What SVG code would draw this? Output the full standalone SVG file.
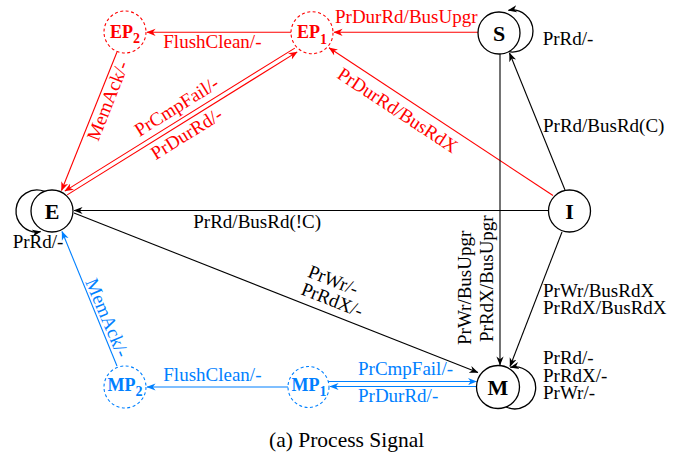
<svg xmlns="http://www.w3.org/2000/svg" width="687" height="458" viewBox="0 0 687 458">
<style>
text{font-family:"Liberation Serif","Times New Roman",serif;font-size:19px}
.k{fill:#000}.r{fill:#FF0000}.b{fill:#0080FF}
.nl{font-weight:bold;font-size:22px;text-anchor:middle}
.sl{font-weight:bold;font-size:18px;text-anchor:middle}
.node{fill:#fff;stroke:#000;stroke-width:1.3}
.dr{fill:#fff;stroke:#FF0000;stroke-width:1.1;stroke-dasharray:3 2.5}
.db{fill:#fff;stroke:#0080FF;stroke-width:1.1;stroke-dasharray:3 2.5}
.lk{fill:none;stroke:#000;stroke-width:1.1;marker-end:url(#ak)}
.lr{fill:none;stroke:#FF0000;stroke-width:1.1;marker-end:url(#ar)}
.lb{fill:none;stroke:#0080FF;stroke-width:1.1;marker-end:url(#ab)}
.loop{fill:none;stroke:#000;stroke-width:1.3;marker-end:url(#ak)}
</style>
<defs>
<marker id="ak" viewBox="0 0 10 10" refX="9.5" refY="5" markerUnits="userSpaceOnUse" markerWidth="9" markerHeight="9" orient="auto"><path d="M0,1 L10,5 L0,9 L3,5 z" fill="#000"/></marker>
<marker id="ar" viewBox="0 0 10 10" refX="9.5" refY="5" markerUnits="userSpaceOnUse" markerWidth="9" markerHeight="9" orient="auto"><path d="M0,1 L10,5 L0,9 L3,5 z" fill="#FF0000"/></marker>
<marker id="ab" viewBox="0 0 10 10" refX="9.5" refY="5" markerUnits="userSpaceOnUse" markerWidth="9" markerHeight="9" orient="auto"><path d="M0,1 L10,5 L0,9 L3,5 z" fill="#0080FF"/></marker>
</defs>
<rect width="687" height="458" fill="#fff"/>

<g id="connectors">
  <!-- red -->
  <line class="lr" x1="478" y1="32.3" x2="334" y2="32.3"/>
  <line class="lr" x1="291" y1="32.3" x2="147" y2="32.3"/>
  <line class="lr" x1="117" y1="52" x2="61.5" y2="190.5"/>
  <line class="lr" x1="294.8" y1="48.1" x2="64.8" y2="191.1"/>
  <line class="lr" x1="67.2" y1="194.9" x2="297.2" y2="51.9"/>
  <line class="lr" x1="553" y1="195.5" x2="329" y2="47.8"/>
  <!-- black -->
  <line class="lk" x1="548" y1="210.5" x2="74" y2="210.5"/>
  <line class="lk" x1="565" y1="190" x2="509.5" y2="53"/>
  <line class="lk" x1="500" y1="54" x2="500" y2="365"/>
  <line class="lk" x1="562" y1="232" x2="510" y2="366.5"/>
  <line class="lk" x1="74" y1="213" x2="478" y2="372.5"/>
  <!-- blue -->
  <line class="lb" x1="288" y1="387" x2="147" y2="387"/>
  <line class="lb" x1="117" y1="366" x2="62" y2="231.5"/>
  <line class="lb" x1="328" y1="381.5" x2="476.5" y2="381.5"/>
  <line class="lb" x1="477" y1="386.5" x2="330" y2="386.5"/>

  <!-- labels -->
  <text class="r" x="335" y="22.7">PrDurRd/BusUpgr</text>
  <text class="r" x="163.3" y="48">FlushClean/-</text>
  <text class="r" text-anchor="middle" transform="translate(113.6,103.2) rotate(-68.5)">MemAck/-</text>
  <text class="r" text-anchor="middle" transform="translate(179.9,111.8) rotate(-31.9)">PrCmpFail/-</text>
  <text class="r" text-anchor="middle" transform="translate(189.9,139.1) rotate(-31.9)">PrDurRd/-</text>
  <text class="r" text-anchor="middle" transform="translate(394.2,115.5) rotate(33.3)">PrDurRd/BusRdX</text>

  <text class="k" x="542.7" y="44.5">PrRd/-</text>
  <text class="k" x="543" y="132">PrRd/BusRd(C)</text>
  <text class="k" x="193.3" y="228.3">PrRd/BusRd(!C)</text>
  <text class="k" x="12.7" y="248">PrRd/-</text>
  <text class="k" transform="translate(470.5,345) rotate(-90)">PrWr/BusUpgr</text>
  <text class="k" transform="translate(492.5,342) rotate(-90)">PrRdX/BusUpgr</text>
  <text class="k" transform="translate(306.8,276.5) rotate(21.5)"><tspan x="0" y="0">PrWr/-</tspan><tspan x="0" y="18.7">PrRdX/-</tspan></text>
  <text class="k" x="543" y="296.7">PrWr/BusRdX</text>
  <text class="k" x="543" y="314.3">PrRdX/BusRdX</text>
  <text class="k" x="543" y="364.3">PrRd/-</text>
  <text class="k" x="543" y="381.6">PrRdX/-</text>
  <text class="k" x="543" y="399.2">PrWr/-</text>

  <text class="b" text-anchor="middle" transform="translate(101.4,320.2) rotate(67)">MemAck/-</text>
  <text class="b" x="163.3" y="381">FlushClean/-</text>
  <text class="b" x="358" y="375.3">PrCmpFail/-</text>
  <text class="b" x="358" y="401.5">PrDurRd/-</text>
</g>

<g id="node-S">
  <path class="loop" d="M508.5,51.7 A21,21 0 1 0 508.4,10.3"/>
  <circle class="node" cx="499" cy="33" r="21"/>
  <text class="k nl" x="499" y="40.5">S</text>
</g>
<g id="node-E">
  <path class="loop" d="M44.5,191.4 A21,21 0 1 0 40.6,231.7"/>
  <circle class="node" cx="52" cy="211" r="21"/>
  <text class="k nl" x="52" y="218.5">E</text>
</g>
<g id="node-I">
  <circle class="node" cx="569.5" cy="211" r="21"/>
  <text class="k nl" x="569.5" y="218.5">I</text>
</g>
<g id="node-M">
  <path class="loop" d="M506,407 A21,21 0 1 0 510.4,367.3"/>
  <circle class="node" cx="498" cy="387" r="21.5"/>
  <text class="k nl" x="498" y="394.5">M</text>
</g>
<g id="node-EP1">
  <circle class="dr" cx="312" cy="32.7" r="21"/>
  <text class="r sl" x="312" y="38">EP<tspan font-size="14" dy="5.5">1</tspan></text>
</g>
<g id="node-EP2">
  <circle class="dr" cx="125" cy="32" r="21"/>
  <text class="r sl" x="125" y="37.5">EP<tspan font-size="14" dy="5.5">2</tspan></text>
</g>
<g id="node-MP1">
  <circle class="db" cx="308.5" cy="387" r="20.5"/>
  <text class="b sl" x="309" y="390.5">MP<tspan font-size="14" dy="5.5">1</tspan></text>
</g>
<g id="node-MP2">
  <circle class="db" cx="125" cy="387" r="21"/>
  <text class="b sl" x="125" y="390.5">MP<tspan font-size="14" dy="5.5">2</tspan></text>
</g>

<text class="k" x="269" y="446.5" style="font-size:21.5px">(a) Process Signal</text>
</svg>
